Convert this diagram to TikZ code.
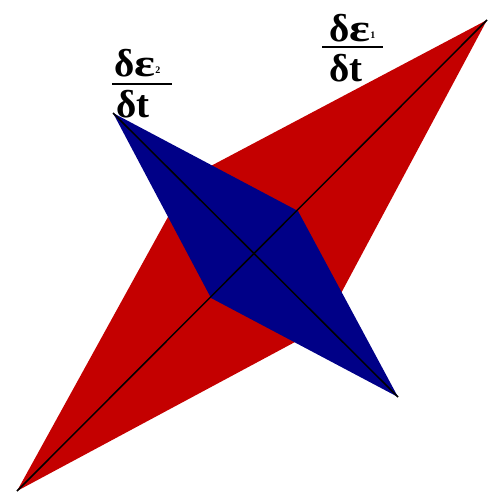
\documentclass[tikz,border=0pt]{standalone}
\usepackage{fontspec}
\setmainfont{Liberation Serif}
\definecolor{redfill}{RGB}{196,0,0}
\definecolor{bluefill}{RGB}{0,0,135}
\newcommand{\wideeps}{\scalebox{1.25}[1]{ε}}
\newcommand{\tinysub}[1]{\raisebox{3pt}{\fontsize{10}{10}\selectfont #1}}
\tikzset{
  lbl/.style={font=\fontsize{39}{39}\selectfont\bfseries, inner sep=0pt, anchor=base west},
  diag/.style={black, line width=1.5pt},
  fracbar/.style={black, line width=1.6pt}
}
\begin{document}
\begin{tikzpicture}[x=1pt,y=-1pt]
\useasboundingbox (0,0) rectangle (491,497);
% red quad
\coordinate (rbl) at (17,491);
\coordinate (rtr) at (487,20);
\coordinate (rl) at (190,177);
\coordinate (rr) at (323,327);
% blue quad
\coordinate (btl) at (113,113);
\coordinate (bbr) at (398,397);
\coordinate (br) at (298,211);
\coordinate (bl) at (211,298);
\fill[redfill] (rbl) -- (rl) -- (rtr) -- (rr) -- cycle;
\fill[bluefill] (btl) -- (br) -- (bbr) -- (bl) -- cycle;
\draw[diag] (rbl) -- (rtr);
\draw[diag] (btl) -- (bbr);
% labels
\node[lbl] (n2) at (114,77) {δ\wideeps\tinysub{2}};
\coordinate (b2a) at (112,84);
\coordinate (b2b) at (172,84);
\draw[fracbar] (b2a) -- (b2b);
\node[lbl] (d2) at (116,118) {δt};
\node[lbl] (n1) at (329,42) {δ\wideeps\tinysub{1}};
\coordinate (b1a) at (322,47);
\coordinate (b1b) at (383,47);
\draw[fracbar] (b1a) -- (b1b);
\node[lbl] (d1) at (329,82) {δt};
\end{tikzpicture}
\end{document}
